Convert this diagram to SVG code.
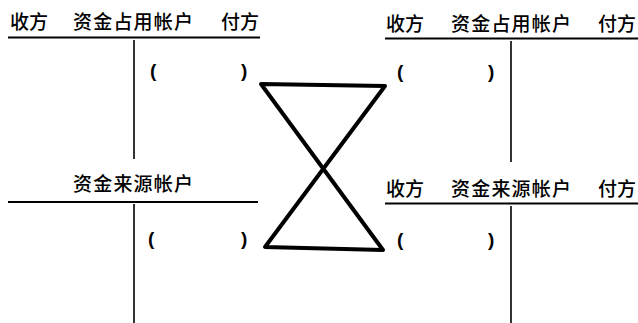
<svg xmlns="http://www.w3.org/2000/svg" width="638" height="323" viewBox="0 0 638 323">
<style>
.t{font-family:"Noto Sans CJK SC","Noto Sans",sans-serif;font-size:19px;font-weight:500;fill:#000}
.w{letter-spacing:1.2px}
.p{font-family:"Liberation Sans",Arial,sans-serif;font-size:19px;font-weight:bold;fill:#000}
.h{stroke:#000;stroke-width:2;fill:none}
.v{stroke:#000;stroke-width:1.6;fill:none}
.x{stroke:#000;stroke-width:4;fill:none;stroke-linejoin:round;stroke-linecap:round}
</style>
<rect width="638" height="323" fill="#fff"/>
<g id="acct-occupy-left">
<text class="t" x="10" y="29">收方</text>
<text class="t w" x="73" y="29">资金占用帐户</text>
<text class="t" x="221" y="29">付方</text>
<line class="h" x1="8" y1="37.5" x2="260" y2="37.5"/>
<line class="v" x1="134" y1="40" x2="134" y2="159"/>
<text class="p" x="150" y="77">(</text>
<text class="p" x="241" y="77">)</text>
</g>
<g id="acct-occupy-right">
<text class="t" x="386" y="31">收方</text>
<text class="t w" x="451" y="31">资金占用帐户</text>
<text class="t" x="598" y="31">付方</text>
<line class="h" x1="385" y1="38.5" x2="638" y2="38.5"/>
<line class="v" x1="511" y1="41" x2="511" y2="162"/>
<text class="p" x="397" y="78">(</text>
<text class="p" x="488" y="78">)</text>
</g>
<g id="acct-source-left">
<text class="t w" x="73" y="191">资金来源帐户</text>
<line class="h" x1="8" y1="202" x2="258" y2="202"/>
<line class="v" x1="134" y1="204" x2="134" y2="323"/>
<text class="p" x="148" y="245">(</text>
<text class="p" x="241" y="245">)</text>
</g>
<g id="acct-source-right">
<text class="t" x="386" y="196">收方</text>
<text class="t w" x="451" y="196">资金来源帐户</text>
<text class="t" x="598" y="196">付方</text>
<line class="h" x1="385" y1="203.5" x2="638" y2="203.5"/>
<line class="v" x1="511" y1="206" x2="511" y2="323"/>
<text class="p" x="397" y="246">(</text>
<text class="p" x="488" y="246">)</text>
</g>
<g id="connectors">
<path class="x" d="M261,84 L385,86 L265,247 L383,250 Z"/>
</g>
</svg>
